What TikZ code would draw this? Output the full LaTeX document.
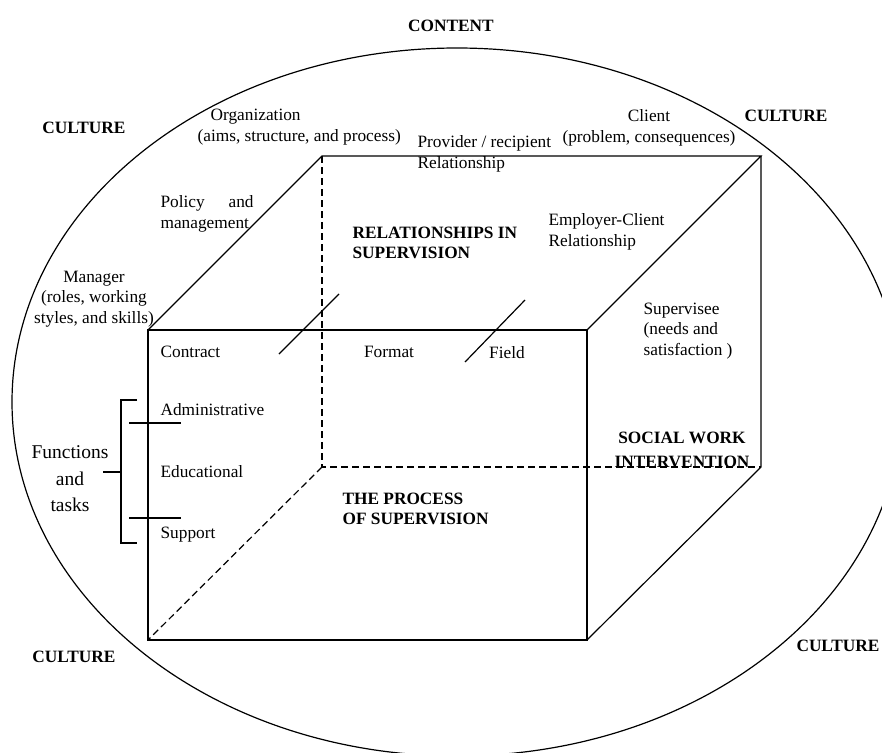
\documentclass[tikz,border=0pt]{standalone}
\usepackage{fontspec}
\setmainfont{Liberation Serif}
\usepackage{tikz}

\tikzset{
  lbl/.style={font=\fontsize{17.3}{20.5}\selectfont, inner sep=0pt},
  hd/.style={font=\fontsize{17.3}{20}\selectfont\bfseries, inner sep=0pt},
  hidden/.style={dash pattern=on 7pt off 4pt},
}

\begin{document}
\begin{tikzpicture}[x=1pt, y=-1pt, line width=1.2pt]
		\useasboundingbox (0,0) rectangle (882,752);

		% Outer ellipse (content / culture)
		\begin{scope}
			\clip (0,0) rectangle (882,752);
			\draw (457,402) ellipse (445 and 354);
		\end{scope}

		% Cube corners
		\coordinate (ftl) at (148,330);
		\coordinate (ftr) at (587,330);
		\coordinate (fbr) at (587,640);
		\coordinate (fbl) at (148,640);
		\coordinate (btl) at (322,156);
		\coordinate (btr) at (761,156);
		\coordinate (bbr) at (761,467);
		\coordinate (bbl) at (322,467);

		% Lines and shapes
		\draw (ftl) -- (ftr) -- (fbr) -- (fbl) -- cycle;
		\draw (ftl) -- (btl) -- (btr) -- (ftr);
		\draw (btr) -- (bbr) -- (fbr);
		\draw[hidden] (btl) -- (bbl) -- (bbr);
		\draw[hidden] (bbl) -- (fbl);

		% Slashes on the top face
		\draw (279,354) -- (339,294);
		\draw (465,362) -- (525,300);

		% Bracket for functions and tasks
		\coordinate (brtop) at (137,400);
		\coordinate (brbot) at (137,543);
		\draw (brtop) -- (121,400) -- (121,543) -- (brbot);
		\draw (103,472) -- (121,472);
		\draw (129,423) -- (181,423);
		\draw (129,518) -- (181,518);

		% Text on the ellipse
		\node[hd] (content) at (451,26) {CONTENT};
		\node[hd] (cultTL) at (84,128) {CULTURE};
		\node[hd] (cultTR) at (786,116) {CULTURE};
		\node[hd] (cultBL) at (74,657) {CULTURE};
		\node[hd] (cultBR) at (838,646) {CULTURE};

		% Text round the top of the cube
		\node[lbl, align=left, anchor=west] (org) at (197,127) {\hspace*{13pt}Organization\\(aims, structure, and process)};
		\node[lbl, align=left, anchor=west] (prov) at (417,154) {Provider / recipient\\Relationship};
		\node[lbl, align=center] (client) at (649,128) {Client\\(problem, consequences)};
		\node[lbl, align=left, anchor=west] (policy) at (160,214) {\makebox[93pt][s]{Policy and}\\management};
		\node[lbl, align=center] (manager) at (94,299) {Manager\\(roles, working\\styles, and skills)};
		\node[hd, align=left, anchor=west] (relsup) at (352,243) {RELATIONSHIPS IN\\SUPERVISION};
		\node[lbl, align=left, anchor=west] (empcl) at (548,232) {Employer-Client\\Relationship};

		% Text on the front and side
		\node[lbl, anchor=west] (contract) at (160,352) {Contract};
		\node[lbl] (format) at (389,352) {Format};
		\node[lbl] (field) at (507,353) {Field};
		\node[lbl, align=left, anchor=west] (supervisee) at (643,331) {Supervisee\\(needs and\\satisfaction )};
		\node[hd, align=center, font=\fontsize{17.3}{24}\selectfont\bfseries] (socwork) at (682,450) {SOCIAL WORK\\INTERVENTION};
		\node[hd, align=left, anchor=west] (process) at (342,509) {THE PROCESS\\OF SUPERVISION};
		\node[lbl, anchor=west] (admin) at (160,410) {Administrative};
		\node[lbl, anchor=west] (educ) at (160,472) {Educational};
		\node[lbl, anchor=west] (support) at (160,535) {Support};
		\node[lbl, align=center, font=\fontsize{19.5}{26.5}\selectfont] (functions) at (70,479) {Functions\\and\\tasks};
	\end{tikzpicture}
\end{document}
